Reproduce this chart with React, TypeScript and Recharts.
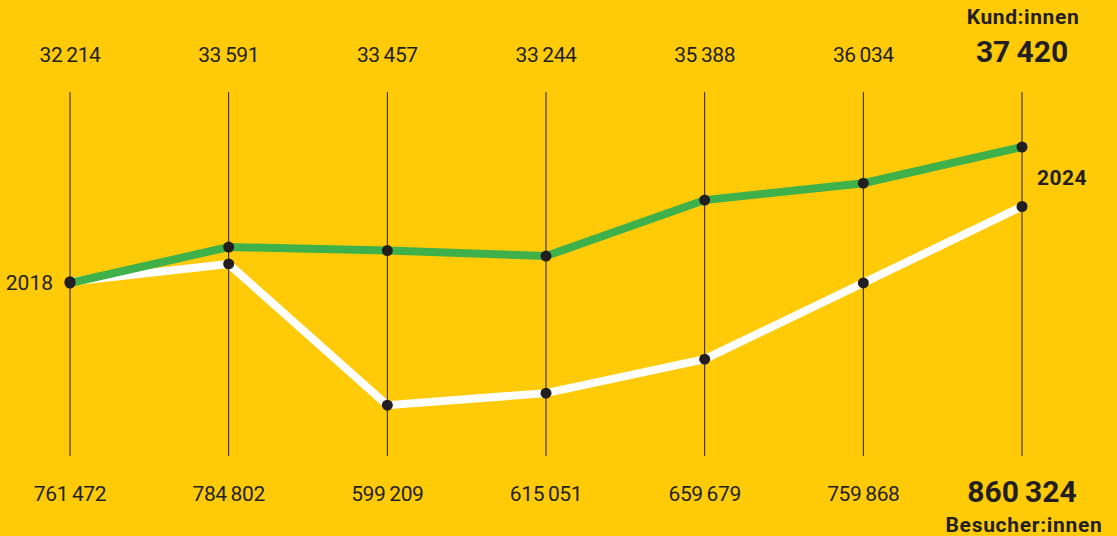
import { LineChart, Line, XAxis, YAxis, CartesianGrid } from "recharts";

const years = [2018, 2019, 2020, 2021, 2022, 2023, 2024];
const customers = [32214, 33591, 33457, 33244, 35388, 36034, 37420];
const visitors = [761472, 784802, 599209, 615051, 659679, 759868, 860324];

const YELLOW = "#FFCB08";
const GREEN = "#3FB14A";
const INK = "#231F20";
const FONT = "Roboto, 'Noto Sans', sans-serif";

const data = years.map((year, i) => ({ year, customers: customers[i], visitors: visitors[i] }));

const fmt = (v: number) => v.toLocaleString("en-US").replace(/,/g, "\u2009");

function TopTick({ x, index }: any) {
  const last = index === years.length - 1;
  if (last) {
    return (
      <g>
        <text x={x + 1} y={24} textAnchor="middle" fontFamily={FONT} fontWeight={700} fontSize={21} letterSpacing={0.6} fill={INK}>
          Kund:innen
        </text>
        <text x={x} y={62} textAnchor="middle" fontFamily={FONT} fontWeight={700} fontSize={30} fill={INK}>
          {fmt(customers[index])}
        </text>
      </g>
    );
  }
  return (
    <text x={x} y={62} textAnchor="middle" fontFamily={FONT} fontSize={21} letterSpacing={-0.4} fill={INK}>
      {fmt(customers[index])}
    </text>
  );
}

function BottomTick({ x, index }: any) {
  const last = index === years.length - 1;
  if (last) {
    return (
      <g>
        <text x={x} y={502} textAnchor="middle" fontFamily={FONT} fontWeight={700} fontSize={30} fill={INK}>
          {fmt(visitors[index])}
        </text>
        <text x={x + 2} y={532} textAnchor="middle" fontFamily={FONT} fontWeight={700} fontSize={21} letterSpacing={0.7} fill={INK}>
          Besucher:innen
        </text>
      </g>
    );
  }
  return (
    <text x={x} y={501} textAnchor="middle" fontFamily={FONT} fontSize={21} letterSpacing={-0.4} fill={INK}>
      {fmt(visitors[index])}
    </text>
  );
}

const greenLabel = ({ x, y, index }: any) =>
  index === 0 ? (
    <text key="y0" x={x - 17} y={y + 7} textAnchor="end" fontFamily={FONT} fontSize={21} fill={INK}>
      {years[0]}
    </text>
  ) : null;

const whiteLabel = ({ x, y, index }: any) =>
  index === years.length - 1 ? (
    <text key="y1" x={x + 40} y={y - 21} textAnchor="middle" fontFamily={FONT} fontWeight={700} fontSize={21} letterSpacing={0.4} fill={INK}>
      {years[years.length - 1]}
    </text>
  ) : null;

const dot = { r: 5.5, fill: INK, stroke: "none" };

export default function App() {
  return (
    <div style={{ position: "absolute", left: 0, top: 0, width: 1117, height: 536, background: YELLOW }}>
      <LineChart width={1117} height={536} data={data} margin={{ top: 0, right: 95, bottom: 0, left: 70 }}>
        <CartesianGrid xAxisId="bottom" yAxisId="cust" horizontal={false} stroke={INK} strokeWidth={1} />
        <XAxis xAxisId="top" orientation="top" dataKey="year" height={92} axisLine={false} tickLine={false} tick={<TopTick />} interval={0} />
        <XAxis xAxisId="bottom" orientation="bottom" dataKey="year" height={80} axisLine={false} tickLine={false} tick={<BottomTick />} interval={0} />
        <YAxis yAxisId="cust" hide domain={[25592, 39525]} />
        <YAxis yAxisId="vis" hide domain={[532463, 1010781]} />
        <Line
          xAxisId="bottom"
          yAxisId="vis"
          dataKey="visitors"
          stroke="#FFFFFF"
          strokeWidth={8}
          dot={dot}
          activeDot={false}
          label={whiteLabel}
          isAnimationActive={false}
        />
        <Line
          xAxisId="bottom"
          yAxisId="cust"
          dataKey="customers"
          stroke={GREEN}
          strokeWidth={8}
          dot={dot}
          activeDot={false}
          label={greenLabel}
          isAnimationActive={false}
        />
      </LineChart>
    </div>
  );
}
